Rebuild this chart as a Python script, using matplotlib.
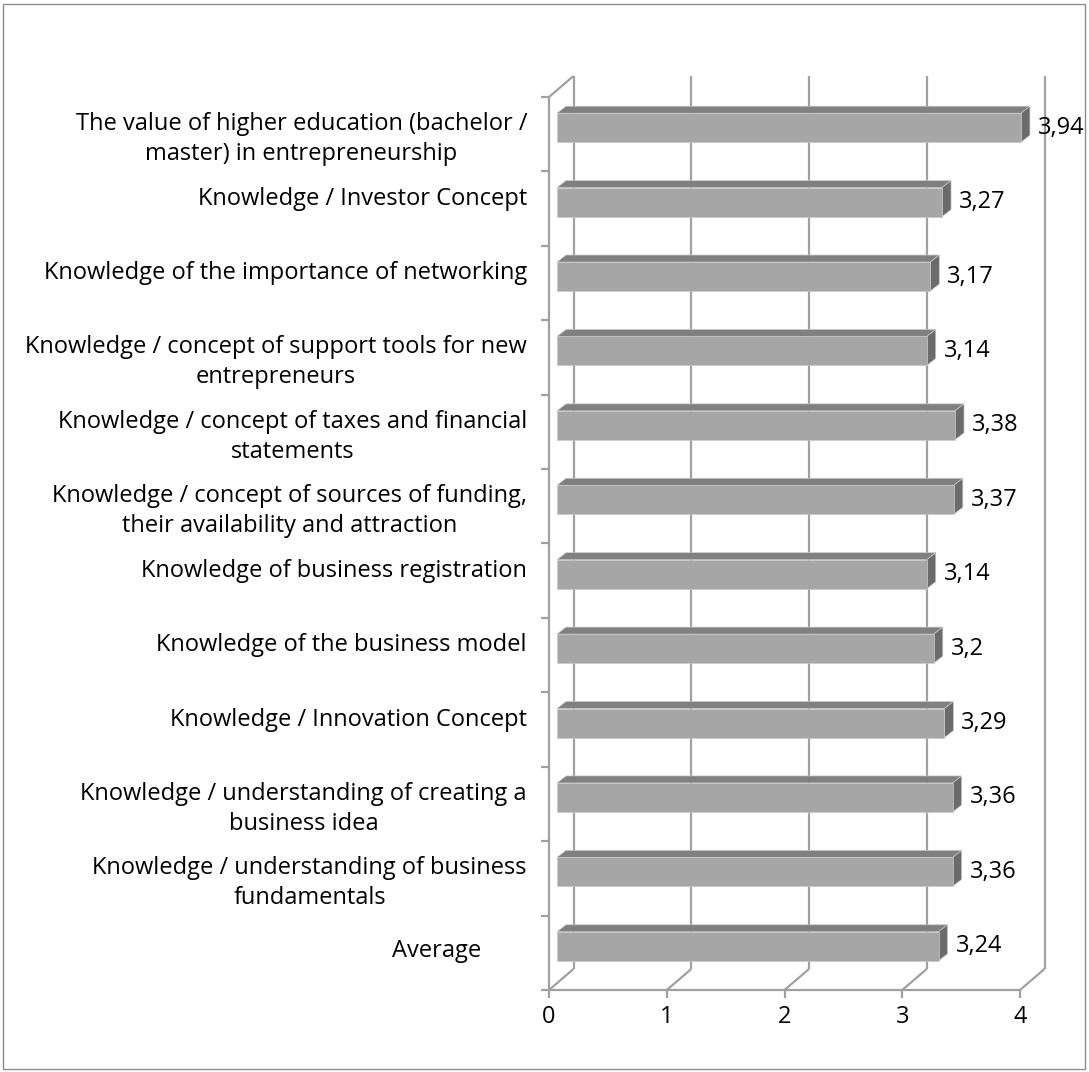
import numpy as np
import matplotlib
matplotlib.use("Agg")
import matplotlib.pyplot as plt
from matplotlib.patches import Polygon, Rectangle

plt.rcParams['font.family'] = ['Open Sans', 'DejaVu Sans']

categories = [
    "The value of higher education (bachelor /\nmaster) in entrepreneurship",
    "Knowledge / Investor Concept",
    "Knowledge of the importance of networking",
    "Knowledge / concept of support tools for new\nentrepreneurs",
    "Knowledge / concept of taxes and financial\nstatements",
    "Knowledge / concept of sources of funding,\ntheir availability and attraction",
    "Knowledge of business registration",
    "Knowledge of the business model",
    "Knowledge / Innovation Concept",
    "Knowledge / understanding of creating a\nbusiness idea",
    "Knowledge / understanding of business\nfundamentals",
    "Average",
]
values = [3.94, 3.27, 3.17, 3.14, 3.38, 3.37, 3.14, 3.2, 3.29, 3.36, 3.36, 3.24]
x_ticks = [0, 1, 2, 3, 4]

W, H = 1089, 1072
fig = plt.figure(figsize=(W / 100, H / 100), dpi=100)
fig.patches.append(Rectangle((3 / W, 3 / H), (W - 7) / W, (H - 7) / H,
                             transform=fig.transFigure, fill=False,
                             edgecolor='#8C8C8C', lw=1.0))

ax = fig.add_axes([549 / W, (H - 990) / H, 471 / W, 893 / H])
n = len(categories)
ax.set_xlim(x_ticks[0], x_ticks[-1])
ax.set_ylim(n, 0)
ax.axis('off')

FS = 17
GRID = '#A0A0A0'
LW = 1.6
BACK = (24.5, 21)
BF = (8, 6.5)
BB = (17, 13.5)


def off(x, y, dx, dy):
    p = ax.transData.transform((x, y)) + np.array([dx, dy])
    return ax.transData.inverted().transform(p)


def line(p, q, z=1):
    ax.plot([p[0], q[0]], [p[1], q[1]], color=GRID, lw=LW, clip_on=False,
            zorder=z, solid_capstyle='butt')


# back wall gridlines and floor diagonals
for t in x_ticks:
    line(off(t, n, *BACK), off(t, 0, *BACK))
    line((t, n), off(t, n, *BACK))
    line((t, n), off(t, n, 0, -8))
# front edges
line((x_ticks[0], n), (x_ticks[-1], n))
line((0, 0), (0, n))
line((0, 0), off(0, 0, *BACK))
for k in range(n + 1):
    line((0, k), off(0, k, -8, 0))

# bars
h = 0.39
for i, v in enumerate(values):
    yc = i + 0.5
    y0, y1 = yc - h / 2, yc + h / 2
    front = [off(0, y0, *BF), off(v, y0, *BF), off(v, y1, *BF), off(0, y1, *BF)]
    top = [off(0, y0, *BF), off(v, y0, *BF), off(v, y0, *BB), off(0, y0, *BB)]
    side = [off(v, y0, *BF), off(v, y1, *BF), off(v, y1, *BB), off(v, y0, *BB)]
    for poly, col in ((top, '#808080'), (side, '#6B6B6B'), (front, '#A6A6A6')):
        ax.add_patch(Polygon(poly, closed=True, facecolor=col, edgecolor='#C8C8C8',
                             lw=0.5, clip_on=False, zorder=3))
    ax.annotate(f"{v:g}".replace('.', ','), xy=(v, yc), xytext=(25, 6.5),
                textcoords='offset pixels', ha='left', va='center',
                fontsize=FS, color='black', zorder=4, annotation_clip=False)

# category labels
for i, lab in enumerate(categories):
    if lab == "Average":
        dx, dy = -68, 1.5
    elif "\n" in lab:
        dx, dy = -22, -5
    else:
        dx, dy = -22, 10
    ax.annotate(lab, xy=(0, i + 0.5), xytext=(dx, dy), textcoords='offset pixels',
                ha='right', va='center', multialignment='center', fontsize=FS,
                linespacing=1.33, annotation_clip=False)

# value axis tick labels
for t in x_ticks:
    ax.annotate(str(t), xy=(t, n), xytext=(0, -27), textcoords='offset pixels',
                ha='center', va='center', fontsize=FS, annotation_clip=False)

fig.savefig("out.png", dpi=100)
